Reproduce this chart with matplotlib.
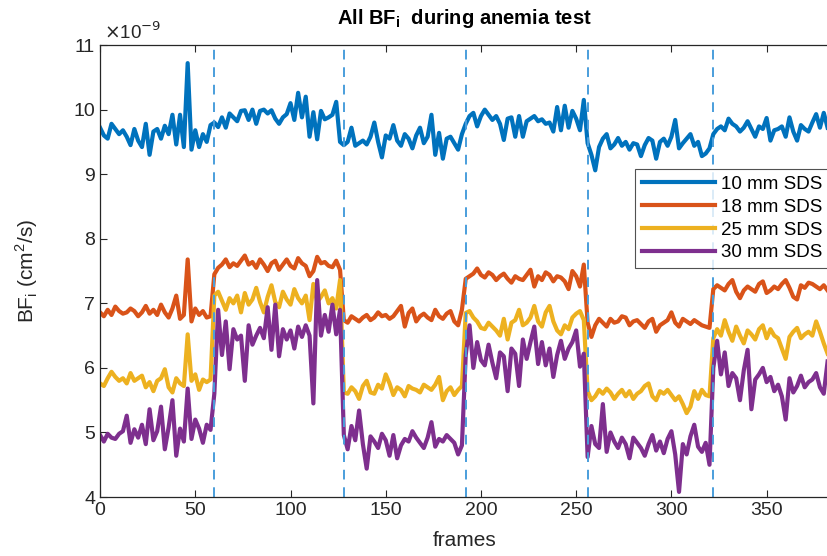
import numpy as np
import matplotlib
matplotlib.use('Agg')
import matplotlib.pyplot as plt

plt.rcParams['font.family'] = ['Liberation Sans', 'DejaVu Sans']

# one sample every 2 frames, 0..382
frames = np.arange(0, 384, 2)

# transitions between baseline / anemia phases
phase_edges = [60, 128, 192, 256, 322]

sds_10 = [
    9.72, 9.6, 9.55, 9.78, 9.7, 9.62, 9.68, 9.58, 9.45, 9.7, 9.52, 9.42, 9.78, 9.3, 9.66,
    9.7, 9.55, 9.75, 9.62, 9.92, 9.46, 9.92, 9.42, 10.72, 9.38, 9.68, 9.42, 9.62, 9.5, 9.76,
    9.8, 9.73, 9.88, 9.72, 9.94, 9.88, 9.82, 9.98, 9.99, 9.84, 10.0, 9.78, 9.98, 10.0, 9.94, 9.99, 9.86,
    9.78, 9.88, 9.93, 10.1, 9.84, 10.26, 9.88, 10.2, 9.58, 9.96, 9.54, 9.98, 9.85, 9.88, 9.92, 10.12, 9.5,
    9.45, 9.5, 9.72, 9.44, 9.48, 9.52, 9.46, 9.58, 9.8, 9.5, 9.26, 9.6, 9.55, 9.76, 9.52, 9.44,
    9.62, 9.55, 9.4, 9.6, 9.72, 9.48, 9.58, 9.92, 9.3, 9.64, 9.24, 9.55, 9.58, 9.48, 9.38, 9.62,
    9.78, 9.9, 9.95, 9.74, 9.9, 10.0, 9.92, 9.84, 9.9, 9.78, 9.53, 9.86, 9.88, 9.58, 9.9, 9.58,
    9.82, 9.86, 9.9, 9.82, 9.85, 9.78, 9.8, 9.66, 10.04, 9.68, 10.06, 9.72, 9.98, 9.86, 9.68, 10.15,
    9.48, 9.3, 9.06, 9.42, 9.55, 9.62, 9.4, 9.46, 9.56, 9.44, 9.5, 9.38, 9.48, 9.46, 9.28, 9.45, 9.56,
    9.52, 9.24, 9.5, 9.55, 9.44, 9.58, 9.84, 9.4, 9.48, 9.55, 9.62, 9.44, 9.5, 9.28, 9.32, 9.4,
    9.62, 9.7, 9.74, 9.68, 9.86, 9.78, 9.74, 9.66, 9.72, 9.82, 9.7, 9.58, 9.74, 9.7, 9.87, 9.52,
    9.68, 9.7, 9.74, 9.58, 9.88, 9.66, 9.52, 9.76, 9.7, 9.66, 9.8, 9.93, 9.72, 9.95, 9.72,
]

sds_18 = [
    6.86, 6.8, 6.9, 6.82, 6.95, 6.88, 6.84, 6.86, 6.92, 6.88, 6.8, 6.86, 6.96, 6.84, 6.9,
    6.82, 6.98, 6.86, 6.78, 6.92, 7.12, 6.76, 6.82, 7.68, 6.72, 6.92, 6.82, 6.88, 6.78, 6.8,
    7.45, 7.55, 7.6, 7.68, 7.56, 7.62, 7.58, 7.66, 7.74, 7.6, 7.64, 7.55, 7.68, 7.6, 7.5, 7.62, 7.66,
    7.52, 7.6, 7.68, 7.58, 7.54, 7.7, 7.62, 7.58, 7.42, 7.5, 7.72, 7.62, 7.64, 7.58, 7.56, 7.66, 7.52,
    6.74, 6.7, 6.8, 6.76, 6.72, 6.78, 6.82, 6.74, 6.78, 6.86, 6.8, 6.82, 6.76, 6.8, 6.88, 6.96,
    6.64, 6.85, 6.92, 6.72, 6.8, 6.84, 6.78, 6.74, 6.9, 6.8, 6.76, 6.84, 6.88, 6.72, 6.66, 6.9,
    7.38, 7.42, 7.46, 7.54, 7.44, 7.4, 7.48, 7.44, 7.36, 7.42, 7.46, 7.38, 7.32, 7.42, 7.38, 7.36,
    7.44, 7.52, 7.26, 7.42, 7.36, 7.48, 7.44, 7.34, 7.42, 7.4, 7.34, 7.22, 7.5, 7.42, 7.26, 7.6,
    6.7, 6.48, 6.66, 6.76, 6.7, 6.64, 6.76, 6.7, 6.72, 6.8, 6.78, 6.66, 6.72, 6.74, 6.68, 6.62, 6.72,
    6.76, 6.56, 6.66, 6.7, 6.74, 6.86, 6.7, 6.64, 6.76, 6.72, 6.68, 6.74, 6.7, 6.66, 6.64, 6.62,
    7.22, 7.28, 7.24, 7.2, 7.3, 7.36, 7.18, 7.08, 7.2, 7.26, 7.22, 7.18, 7.3, 7.34, 7.16, 7.2,
    7.26, 7.22, 7.3, 7.36, 7.24, 7.1, 7.06, 7.28, 7.24, 7.32, 7.3, 7.26, 7.22, 7.28, 7.2,
]

sds_25 = [
    5.76, 5.72, 5.84, 5.94, 5.86, 5.8, 5.84, 5.76, 5.92, 5.8, 5.84, 5.88, 5.7, 5.78, 5.64,
    5.8, 5.84, 5.98, 5.7, 5.62, 5.84, 5.76, 5.72, 6.52, 5.8, 5.9, 5.66, 5.82, 5.78, 5.82,
    7.12, 7.18, 7.04, 6.9, 7.08, 7.0, 7.12, 6.86, 7.16, 6.98, 7.06, 7.24, 7.02, 6.86, 7.1, 7.28, 7.02,
    6.94, 7.18, 7.06, 6.98, 7.22, 7.08, 7.0, 7.12, 6.74, 7.3, 7.02, 7.1, 7.2, 7.0, 7.08, 6.92, 7.36,
    5.62, 5.6, 5.7, 5.64, 5.52, 5.72, 5.8, 5.62, 5.6, 5.74, 5.68, 5.9, 5.76, 5.58, 5.7, 5.66,
    5.56, 5.72, 5.68, 5.66, 5.62, 5.74, 5.7, 5.66, 5.74, 5.86, 5.5, 5.64, 5.7, 5.58, 5.66, 5.72,
    6.85, 6.88, 6.78, 6.72, 6.62, 6.6, 6.7, 6.64, 6.58, 6.5, 6.76, 6.44, 6.7, 6.74, 6.9, 6.66,
    6.7, 6.78, 6.96, 6.72, 6.64, 6.86, 6.96, 6.72, 6.58, 6.52, 6.66, 6.6, 6.78, 6.84, 6.88, 6.74,
    5.64, 5.5, 5.56, 5.66, 5.6, 5.68, 5.62, 5.52, 5.6, 5.66, 5.56, 5.64, 5.52, 5.6, 5.64, 5.72, 5.76,
    5.56, 5.5, 5.64, 5.6, 5.66, 5.58, 5.5, 5.56, 5.44, 5.3, 5.4, 5.64, 5.52, 5.66, 5.58, 5.56,
    6.46, 6.6, 6.5, 6.74, 6.56, 6.42, 6.64, 6.5, 6.38, 6.58, 6.52, 6.44, 6.6, 6.66, 6.46, 6.6,
    6.5, 6.46, 6.3, 6.14, 6.48, 6.56, 6.62, 6.46, 6.52, 6.56, 6.5, 6.72, 6.56, 6.38, 6.22,
]

sds_30 = [
    4.96, 4.86, 4.98, 4.92, 4.9, 4.98, 5.02, 5.26, 4.84, 5.05, 4.92, 5.12, 4.82, 5.36, 4.88,
    5.02, 5.4, 4.74, 5.08, 5.5, 4.64, 5.06, 4.86, 5.68, 4.9, 5.2, 5.06, 4.84, 5.12, 5.04,
    5.6, 6.9, 6.2, 6.72, 5.98, 6.6, 6.44, 6.5, 5.8, 6.66, 6.36, 6.5, 6.62, 6.46, 6.94, 6.28, 6.98,
    6.18, 6.6, 6.44, 6.58, 6.3, 6.64, 6.48, 6.66, 6.5, 5.45, 7.36, 6.5, 6.82, 6.56, 6.98, 6.52, 6.9,
    4.96, 4.74, 5.1, 4.88, 5.34, 4.82, 4.44, 4.94, 4.86, 4.76, 4.98, 4.88, 4.64, 4.96, 4.6, 4.8,
    4.9, 4.86, 5.02, 4.92, 4.84, 4.76, 4.92, 5.16, 4.78, 4.9, 4.86, 4.96, 4.9, 4.84, 4.66, 4.8,
    6.2, 6.66, 6.0, 6.4, 6.12, 6.04, 6.36, 6.08, 5.84, 6.24, 6.18, 5.64, 6.3, 6.22, 5.72, 6.44,
    6.14, 6.4, 6.64, 6.06, 6.4, 6.04, 6.3, 5.86, 6.2, 6.42, 6.14, 6.3, 6.4, 6.58, 6.02, 6.22,
    4.62, 5.1, 4.82, 4.76, 5.44, 4.7, 5.0, 4.86, 4.76, 4.92, 4.82, 4.6, 4.92, 4.84, 4.76, 4.64, 4.82,
    4.96, 4.72, 4.86, 4.68, 4.9, 5.02, 4.66, 4.08, 4.82, 4.66, 4.94, 5.12, 4.78, 4.7, 4.84, 4.5,
    6.0, 6.42, 5.9, 6.24, 5.72, 5.92, 5.84, 5.5, 5.96, 6.28, 5.36, 5.82, 5.9, 6.0, 5.78, 5.86,
    5.64, 5.74, 5.56, 5.2, 5.84, 5.62, 5.72, 5.88, 5.7, 5.78, 5.82, 5.92, 5.7, 5.6, 6.1,
]

labels = ['10 mm SDS', '18 mm SDS', '25 mm SDS', '30 mm SDS']
colors = ['#0072BD', '#D95319', '#EDB120', '#7E2F8E']

fig = plt.figure(figsize=(8.27, 5.56), dpi=100)
ax = fig.add_axes([0.121, 0.106, 0.882, 0.813])

for y, lab, c in zip([sds_10, sds_18, sds_25, sds_30], labels, colors):
    ax.plot(frames, np.array(y) * 1e-9, color=c, lw=3.0, label=lab,
            solid_joinstyle='round')

for e in phase_edges:
    ax.axvline(e, color='#4A9EDC', ls=(0, (5, 4)), lw=1.4)

ax.set_xlim(0, 383)
ax.set_ylim(4e-9, 11e-9)
ax.set_xticks(np.arange(0, 400, 50))
ax.set_yticks(np.arange(4, 12) * 1e-9)
ax.set_yticklabels([str(v) for v in range(4, 12)])

ax.tick_params(direction='in', top=True, right=False, labelsize=14,
               colors='#262626', length=5, width=0.8)
for s in ['left', 'bottom', 'top']:
    ax.spines[s].set_color('#262626')
    ax.spines[s].set_linewidth(0.9)
ax.spines['right'].set_visible(False)

ax.text(0.005, 1.005, r'$\times$10$^{-9}$', transform=ax.transAxes,
        fontsize=13.5, color='#262626', va='bottom', ha='left')

ax.set_title(r'All BF$_\mathregular{i}$  during anemia test', fontsize=14.5,
             fontweight='bold', pad=15)
ax.set_xlabel('frames', fontsize=15, color='#262626', labelpad=9)
ax.set_ylabel(r'BF$_\mathregular{i}$ (cm$^\mathregular{2}$/s)', fontsize=15,
              color='#262626', labelpad=24)

leg = ax.legend(loc='upper right', bbox_to_anchor=(0.999, 0.725), fontsize=13.5,
                frameon=True, fancybox=False, handlelength=3.9, handletextpad=0.3,
                borderpad=0.35, labelspacing=0.3, borderaxespad=0)
leg.get_frame().set_edgecolor('#262626')
leg.get_frame().set_linewidth(0.8)
for line in leg.get_lines():
    line.set_linewidth(3)

fig.savefig('out.png', dpi=100)
